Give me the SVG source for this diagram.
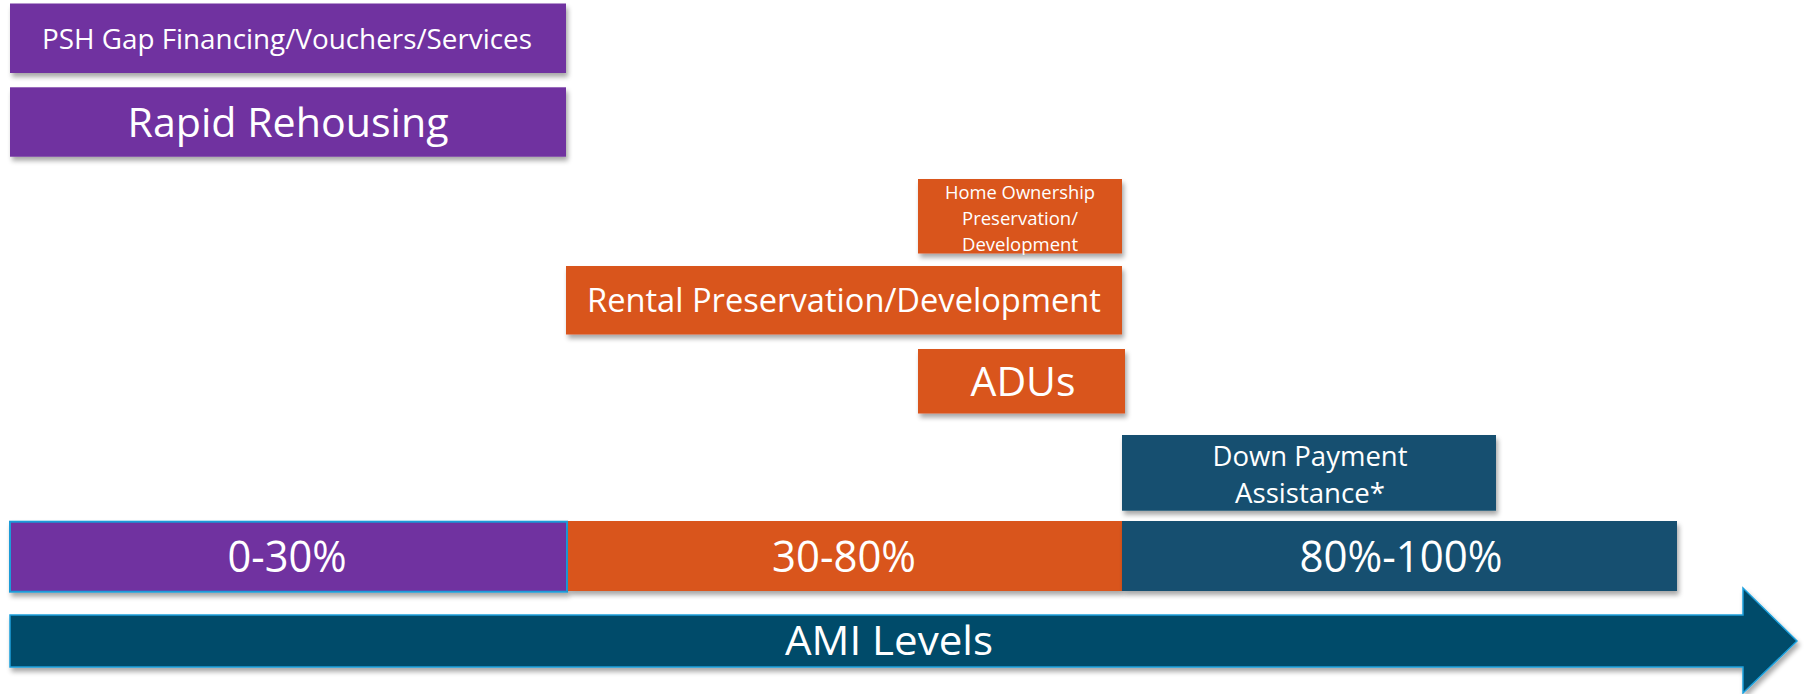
<svg xmlns="http://www.w3.org/2000/svg" width="1814" height="694" viewBox="0 0 1814 694">
  <defs>
    <filter id="shadow" x="-5%" y="-20%" width="110%" height="150%">
      <feGaussianBlur in="SourceAlpha" stdDeviation="2.5"/>
      <feOffset dx="2" dy="4" result="b"/>
      <feComponentTransfer><feFuncA type="linear" slope="0.35"/></feComponentTransfer>
      <feMerge><feMergeNode/><feMergeNode in="SourceGraphic"/></feMerge>
    </filter>
  </defs>
  <style>
    .purple { fill: #7030A0; }
    .orange { fill: #D9541F; }
    .navy { fill: #124F6F; }
    .box { filter: url(#shadow); }
    text { font-family: "Open Sans", "Noto Sans", "Liberation Sans", sans-serif; fill: #FFFFFF; text-anchor: middle; }
  </style>

  <rect width="1814" height="694" fill="#FFFFFF"/>

  <!-- AMI axis arrow -->
  <g id="connectors">
    <polygon id="ami-arrow" class="box" points="10,615 1743,615 1743,588 1797,641 1743,693 1743,667 10,667" fill="#004B6B" stroke="#1CA0DC" stroke-width="1.5"/>
    <text x="889" y="655" font-size="40" textLength="208" lengthAdjust="spacingAndGlyphs">AMI Levels</text>
  </g>

  <!-- Program boxes -->
  <g id="psh">
    <rect class="box purple" x="10" y="3.5" width="556" height="69.5"/>
    <text x="287" y="49.3" font-size="27" textLength="490" lengthAdjust="spacingAndGlyphs">PSH Gap Financing/Vouchers/Services</text>
  </g>
  <g id="rapid-rehousing">
    <rect class="box purple" x="10" y="87.3" width="556" height="69.4"/>
    <text x="288" y="136.7" font-size="40" textLength="321" lengthAdjust="spacingAndGlyphs">Rapid Rehousing</text>
  </g>
  <g id="home-ownership">
    <rect class="box orange" x="918" y="179" width="204" height="74.5"/>
    <text x="1020" y="199.3" font-size="18.6" textLength="150" lengthAdjust="spacingAndGlyphs">Home Ownership</text>
    <text x="1020" y="225" font-size="18.6" textLength="116" lengthAdjust="spacingAndGlyphs">Preservation/</text>
    <text x="1020" y="251" font-size="18.6" textLength="116" lengthAdjust="spacingAndGlyphs">Development</text>
  </g>
  <g id="rental">
    <rect class="box orange" x="566" y="266" width="556" height="68.5"/>
    <text x="844" y="311.7" font-size="32.6" textLength="514" lengthAdjust="spacingAndGlyphs">Rental Preservation/Development</text>
  </g>
  <g id="adus">
    <rect class="box orange" x="918" y="349" width="207" height="64.5"/>
    <text x="1023" y="396" font-size="41" textLength="105" lengthAdjust="spacingAndGlyphs">ADUs</text>
  </g>
  <g id="down-payment">
    <rect class="box navy" x="1122" y="435" width="374" height="75.7"/>
    <text x="1310" y="465.7" font-size="26.6" textLength="195" lengthAdjust="spacingAndGlyphs">Down Payment</text>
    <text x="1310" y="503.3" font-size="26.6" textLength="150" lengthAdjust="spacingAndGlyphs">Assistance*</text>
  </g>

  <!-- AMI bands -->
  <g id="band-0-30">
    <rect class="box purple" x="10" y="521.7" width="557" height="70" stroke="#1A9CD8" stroke-width="2"/>
    <text x="287" y="572.3" font-size="44" textLength="119" lengthAdjust="spacingAndGlyphs">0-30%</text>
  </g>
  <g id="band-30-80">
    <rect class="box orange" x="568" y="521" width="554" height="70"/>
    <text x="844" y="572" font-size="44" textLength="144" lengthAdjust="spacingAndGlyphs">30-80%</text>
  </g>
  <g id="band-80-100">
    <rect class="box navy" x="1122" y="521" width="555" height="70"/>
    <text x="1401" y="571.7" font-size="44" textLength="203" lengthAdjust="spacingAndGlyphs">80%-100%</text>
  </g>
</svg>
